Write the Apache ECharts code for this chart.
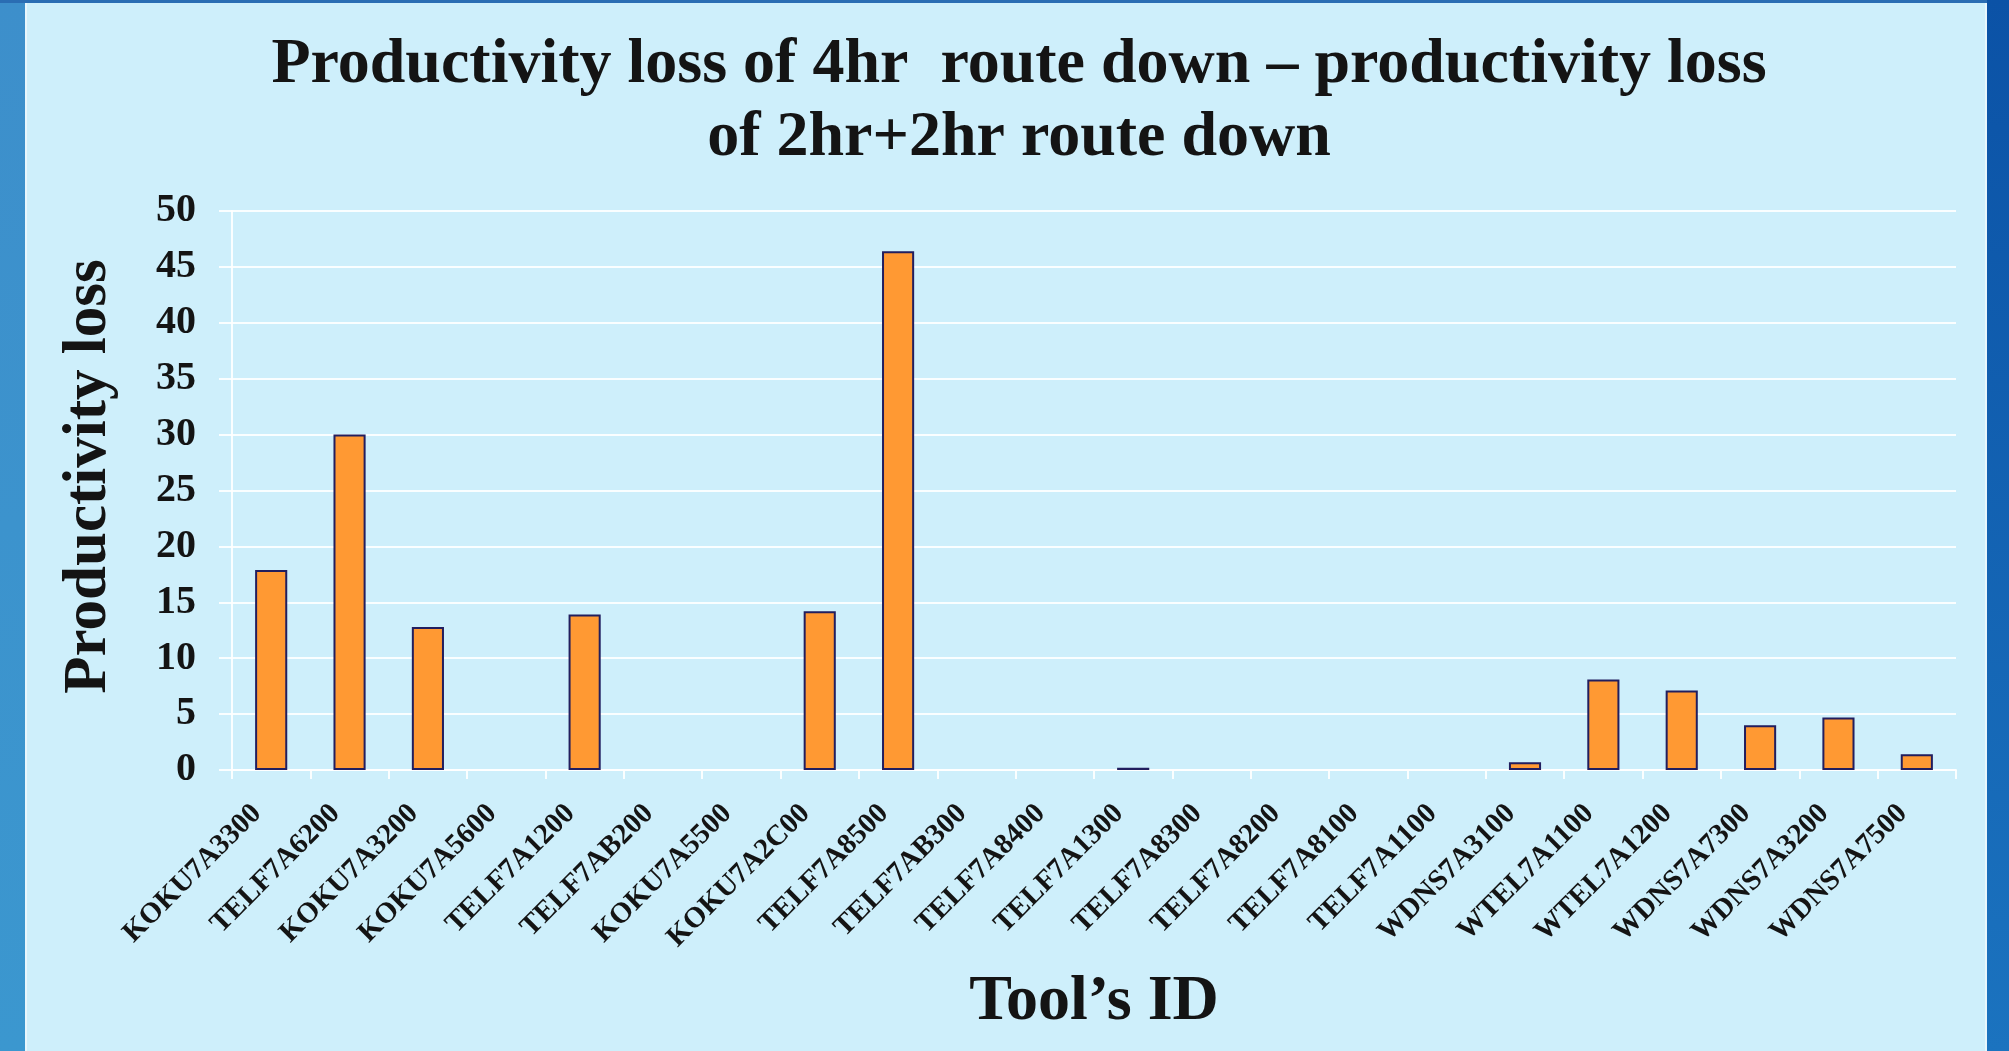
<!DOCTYPE html>
<html>
<head>
<meta charset="utf-8">
<title>Productivity loss</title>
<script src="https://cdn.jsdelivr.net/npm/echarts@6/dist/echarts.min.js"></script>
<style>
    html, body { margin: 0; padding: 0; background: #CEEFFB; }
    #lossChart { width: 2009px; height: 1051px; }
</style>
</head>
<body>
<div id="lossChart"></div>
<script>
// 数据
var toolIds = ['KOKU7A3300', 'TELF7A6200', 'KOKU7A3200', 'KOKU7A5600', 'TELF7A1200', 'TELF7AB200',
    'KOKU7A5500', 'KOKU7A2C00', 'TELF7A8500', 'TELF7AB300', 'TELF7A8400', 'TELF7A1300',
    'TELF7A8300', 'TELF7A8200', 'TELF7A8100', 'TELF7A1100', 'WDNS7A3100', 'WTEL7A1100',
    'WTEL7A1200', 'WDNS7A7300', 'WDNS7A3200', 'WDNS7A7500'];
var lossValues = [17.9, 30, 12.8, 0, 13.9, 0, 0, 14.2, 46.4, 0, 0, 0.2, 0, 0, 0, 0, 0.7, 8.1, 7.1, 4.0, 4.7, 1.4];
var yMin = 0, yMax = 50, yStep = 5;

var chart = echarts.init(document.getElementById('lossChart')),
    font = "'Liberation Serif', 'Times New Roman', serif",
    white = 'rgba(255,255,255,0.9)',
    // 0 值不画柱子（避免边框画出一条线）
    barData = lossValues.map(function (v) { return v === 0 ? '-' : v; });

chart.setOption({
    backgroundColor: '#CEEFFB',
    textStyle: { fontFamily: font },
    graphic: [
        // 左侧蓝边
        { type: 'rect', shape: { x: 0, y: 0, width: 25, height: 1051 },
          style: { fill: new echarts.graphic.LinearGradient(0, 0, 0, 1, [
              { offset: 0, color: '#3D8FCB' }, { offset: 1, color: '#3B97CF' }]) } },
        { type: 'rect', shape: { x: 25, y: 3, width: 2, height: 1048 }, style: { fill: '#E8F6FC' } },
        // 顶部
        { type: 'rect', shape: { x: 0, y: 0, width: 2009, height: 3 }, style: { fill: '#2A6DB3' } },
        // 右侧
        { type: 'rect', shape: { x: 1985, y: 3, width: 2, height: 1048 }, style: { fill: '#E8F6FC' } },
        { type: 'rect', shape: { x: 1987, y: 0, width: 22, height: 1051 },
          style: { fill: new echarts.graphic.LinearGradient(0, 0, 0, 1, [
              { offset: 0, color: '#0B52A6' }, { offset: 1, color: '#1B73BF' }]) } }
    ],
    title: {
        text: 'Productivity loss of 4hr  route down \u2013 productivity loss\nof 2hr+2hr route down',
        left: 1014,
        top: 24,
        textAlign: 'center',
        textStyle: {
            fontFamily: font,
            fontSize: 64,
            fontWeight: 'bold',
            lineHeight: 73,
            color: '#141414'
        }
    },
    grid: {
        left: 232,
        right: 53,
        top: 211,
        bottom: 281
    },
    xAxis: {
        type: 'category',
        data: toolIds,
        name: 'Tool\u2019s ID',
        nameLocation: 'middle',
        nameGap: 200,
        nameTextStyle: {
            fontFamily: font,
            fontSize: 64,
            fontWeight: 'bold',
            color: '#141414'
        },
        axisLine: { lineStyle: { color: white, width: 2 } },
        axisTick: { show: true, length: 9, lineStyle: { color: white, width: 2 } },
        axisLabel: {
            rotate: 45,
            interval: 0,
            margin: 25,
            padding: [0, 20, 0, 0],
            fontFamily: font,
            fontSize: 29,
            fontWeight: 'bold',
            color: '#141414'
        }
    },
    yAxis: {
        type: 'value',
        min: yMin,
        max: yMax,
        interval: yStep,
        name: 'Productivity loss',
        nameLocation: 'middle',
        nameGap: 112,
        nameTextStyle: {
            fontFamily: font,
            fontSize: 61,
            fontWeight: 'bold',
            color: '#141414',
            padding: [0, 0, 0, 28]
        },
        axisLine: { show: true, lineStyle: { color: white, width: 2 } },
        axisTick: { show: true, length: 13, lineStyle: { color: white, width: 2 } },
        axisLabel: {
            margin: 36,
            fontFamily: font,
            fontSize: 40,
            fontWeight: 'bold',
            color: '#141414'
        },
        splitLine: { lineStyle: { color: white, width: 2 } }
    },
    series: [{
        type: 'bar',
        data: barData,
        barWidth: '41%',
        itemStyle: {
            color: '#FF9933',
            borderColor: '#221E5E',
            borderWidth: 2
        }
    }]
});
</script>
</body>
</html>
